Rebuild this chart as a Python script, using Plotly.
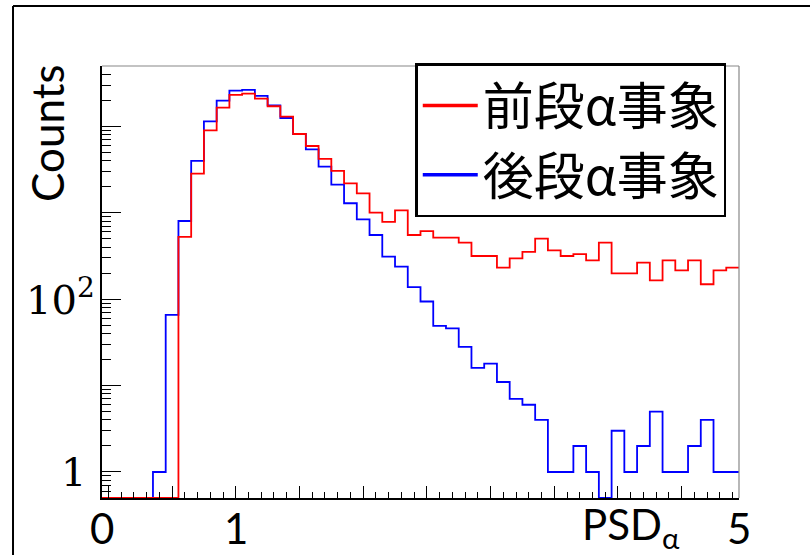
import numpy as np
import plotly.graph_objects as go

# ---- data ----
BIN_WIDTH = 0.1
bin_centers = [round(0.1 * i, 1) for i in range(50)]

# 前段α事象 (red)
front_counts = [0, 0, 0, 0, 0, 0, 525, 2840, 9010, 16500,
                23100, 23900, 21000, 17100, 13000, 8170, 5930, 4200, 3050, 2190,
                1680, 1005, 783, 1069, 553, 615, 516, 516, 452, 316,
                316, 232, 297, 352, 502, 368, 316, 333, 282, 452,
                199, 199, 265, 165, 282, 216, 282, 149, 216, 232]

# 後段α事象 (blue)
back_counts = [0, 0, 0, 0, 1, 66, 804, 3980, 11460, 19900,
               25900, 26400, 22500, 17500, 12500, 8170, 5430, 3430, 2120, 1290,
               841, 553, 311, 238, 138, 94, 49, 46, 28, 16,
               18, 11, 7, 6, 4, 1, 1, 2, 1, 0,
               3, 1, 2, 5, 1, 1, 2, 4, 1, 1]

names = ["前段α事象", "後段α事象"]
colors = ["#ff0000", "#0000ff"]

Y_MIN, Y_MAX = 0.5, 5.0e4
X_MIN = bin_centers[0] - BIN_WIDTH / 2
X_MAX = bin_centers[-1] + BIN_WIDTH / 2

edges = [c - BIN_WIDTH / 2 for c in bin_centers] + [X_MAX]


def step_y(vals):
    v = np.array(vals, dtype=float)
    v = np.where(v > 0, v, Y_MIN)  # empty bins drawn on the axis floor, like ROOT
    return list(v) + [v[-1]]


fig = go.Figure()
# histogram lines (blue first so red lies on top)
fig.add_trace(go.Scatter(x=edges, y=step_y(back_counts), mode="lines", line_shape="hv",
                         line=dict(color=colors[1], width=1.8), showlegend=False))
fig.add_trace(go.Scatter(x=edges, y=step_y(front_counts), mode="lines", line_shape="hv",
                         line=dict(color=colors[0], width=1.8), showlegend=False))
# legend entries (thicker line samples, as in the reference legend)
for nm, col in zip(names, colors):
    fig.add_trace(go.Scatter(x=[None], y=[None], mode="lines", name=nm,
                             line=dict(color=col, width=3.5)))

minor_y = [m * 10 ** k for k in range(-1, 5) for m in range(2, 10) if Y_MIN < m * 10 ** k < Y_MAX]

SANS = "Lato, 'Noto Sans', sans-serif"
SERIF = "'DejaVu Serif', serif"

fig.update_layout(
    width=810, height=555,
    margin=dict(l=102, r=71, t=66, b=57),
    paper_bgcolor="white", plot_bgcolor="white",
    showlegend=True,
    legend=dict(x=0.98, y=0.828, xanchor="right", yanchor="middle",
                bgcolor="white", bordercolor="black", borderwidth=2.5,
                font=dict(family="'Noto Sans CJK JP', sans-serif", size=51, color="black"),
                itemwidth=55, tracegroupgap=0, traceorder="normal"),
    xaxis=dict(range=[X_MIN, X_MAX], showgrid=False, zeroline=False,
               showline=True, linecolor="black", linewidth=1.5,
               ticks="inside", ticklen=12, tickwidth=1.3, tickcolor="black",
               tickmode="linear", tick0=0, dtick=0.5, showticklabels=False,
               minor=dict(ticks="inside", ticklen=6, tickwidth=1.1, tickcolor="black",
                          tick0=0, dtick=0.1, showgrid=False)),
    yaxis=dict(type="log", range=[np.log10(Y_MIN), np.log10(Y_MAX)], showgrid=False,
               zeroline=False, showline=True, linecolor="black", linewidth=1.5,
               ticks="inside", ticklen=19, tickwidth=1.3, tickcolor="black",
               tickmode="array", tickvals=[1, 10, 100, 1000, 10000],
               showticklabels=False,
               minor=dict(ticks="inside", ticklen=9, tickwidth=1.1, tickcolor="black",
                          tickvals=minor_y, showgrid=False)),
)

# grey frame on top/right
fig.add_shape(type="line", xref="paper", yref="paper", x0=0, x1=1, y0=1, y1=1,
              line=dict(color="#888888", width=1.2))
fig.add_shape(type="line", xref="paper", yref="paper", x0=1, x1=1, y0=0, y1=1,
              line=dict(color="#888888", width=1.2))
# outer slide border (left/top)
fig.add_shape(type="line", xref="paper", yref="paper", x0=-0.1397, x1=-0.1397, y0=-0.2, y1=1.139,
              line=dict(color="black", width=2))
fig.add_shape(type="line", xref="paper", yref="paper", x0=-0.1397, x1=1.2, y0=1.139, y1=1.139,
              line=dict(color="black", width=2))

# y labels (overlaid, serif)
fig.add_annotation(text="1", xref="paper", yref="y", x=-0.022, y=0, showarrow=False,
                   font=dict(family=SERIF, size=40, color="black"), xanchor="right", yanchor="middle")
fig.add_annotation(text="10<sup>2</sup>", xref="paper", yref="y", x=-0.008, y=2.02, showarrow=False,
                   font=dict(family=SERIF, size=40, color="black"), xanchor="right", yanchor="middle")

ann_font = dict(family=SANS, size=42, color="black")
fig.add_annotation(text="Counts", xref="paper", yref="paper", x=-0.0863, y=0.845,
                   textangle=-90, showarrow=False, font=dict(family=SANS, size=44, color="black"),
                   xanchor="center", yanchor="middle")
fig.add_annotation(text="0", xref="x", yref="paper", x=X_MIN, y=-0.069, showarrow=False,
                   font=ann_font, xanchor="center", yanchor="middle")
fig.add_annotation(text="1", xref="x", yref="paper", x=1.0, y=-0.069, showarrow=False,
                   font=ann_font, xanchor="center", yanchor="middle")
fig.add_annotation(text="5", xref="x", yref="paper", x=X_MAX, y=-0.069, showarrow=False,
                   font=ann_font, xanchor="center", yanchor="middle")
fig.add_annotation(text="PSD<sub>α</sub>", xref="paper", yref="paper", x=0.83, y=-0.068,
                   showarrow=False, font=ann_font, xanchor="center", yanchor="middle")

fig.write_html("out.html")
